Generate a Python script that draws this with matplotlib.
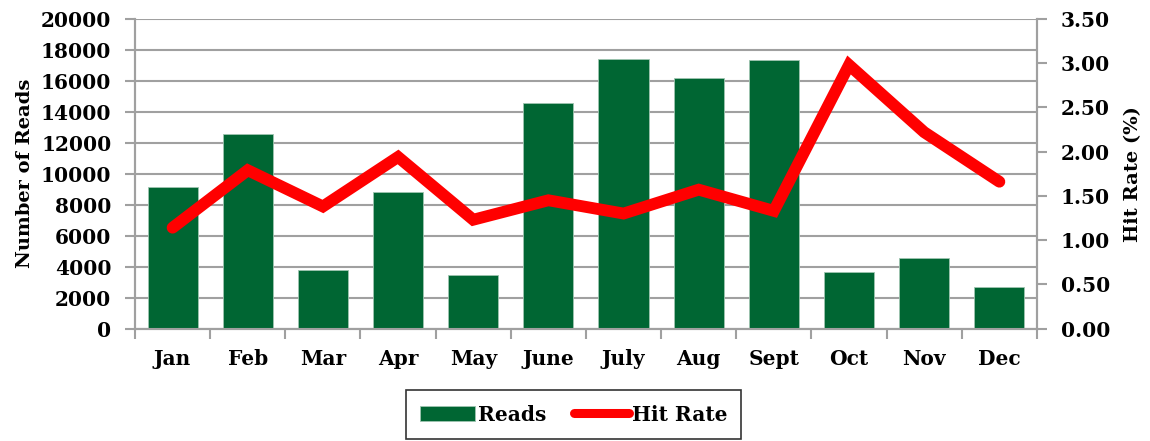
import matplotlib
matplotlib.use("Agg")
import matplotlib.pyplot as plt
import numpy as np

months = ["Jan", "Feb", "Mar", "Apr", "May", "June", "July", "Aug", "Sept", "Oct", "Nov", "Dec"]
reads = [9150, 12600, 3760, 8800, 3460, 14550, 17420, 16190, 17350, 3670, 4540, 2690]
hit_rate = [1.14, 1.79, 1.38, 1.94, 1.23, 1.45, 1.30, 1.57, 1.33, 2.98, 2.22, 1.66]

plt.rcParams['font.family'] = ['DejaVu Serif']
plt.rcParams['font.weight'] = 'bold'

fig = plt.figure(figsize=(11.5, 4.41), dpi=100)
ax = fig.add_axes([0.1174, 0.2551, 0.9017 - 0.1174, 0.9569 - 0.2551])
ax2 = ax.twinx()

grid_c = "#a0a0a0"
x = np.arange(len(months))
bars = ax.bar(x, reads, width=0.667, color="#006633", edgecolor="#9fc5b0", linewidth=0.6, zorder=3, label="Reads")
line, = ax2.plot(x, hit_rate, color="#ff0000", linewidth=8.5, solid_capstyle="round", solid_joinstyle="miter", zorder=4, label="Hit Rate")

ax.set_xlim(-0.5, len(months) - 0.5)
ax.set_ylim(0, 20000)
ax.set_yticks(np.arange(0, 20001, 2000))
ax2.set_ylim(0, 3.5)
ax2.set_yticks(np.arange(0, 3.51, 0.5))
ax2.set_yticklabels([f"{v:.2f}" for v in np.arange(0, 3.51, 0.5)])

ax.yaxis.grid(True, color=grid_c, linewidth=1.5, zorder=0)
ax.set_axisbelow(True)

ax.set_xticks(x)
ax.set_xticklabels(months)
ax.set_xticks(np.arange(-0.5, len(months), 1), minor=True)
ax.tick_params(axis="x", which="major", length=0, pad=15, labelsize=14.5)
ax.tick_params(axis="x", which="minor", length=7, width=1.5, color=grid_c, direction="out")
ax.tick_params(axis="y", length=7, width=1.5, color=grid_c, labelsize=14.5, pad=10)
ax2.tick_params(axis="y", length=7, width=1.5, color=grid_c, labelsize=14.5, pad=10)

for a in (ax, ax2):
    for s in a.spines.values():
        s.set_color(grid_c)
        s.set_linewidth(1.5)
    a.spines["top"].set_visible(False)

ax.set_ylabel("Number of Reads", fontsize=14, fontweight="bold", labelpad=5)
ax2.set_ylabel("Hit Rate (%)", fontsize=14, fontweight="bold", labelpad=10)

ax2.set_zorder(ax.get_zorder() + 1)
ax2.patch.set_visible(False)

leg = fig.legend([bars, line], ["Reads", "Hit Rate"], loc="center", bbox_to_anchor=(0.499, 0.060),
                 ncol=2, frameon=True, fancybox=False, edgecolor="#000000", fontsize=14.5,
                 handlelength=2.7, handletextpad=0.15, columnspacing=1.4, borderpad=0.7,
                 borderaxespad=0)
leg.get_frame().set_linewidth(1.2)
leg.legend_handles[1].set_linewidth(6.5)
leg.legend_handles[1].set_solid_capstyle("round")

fig.savefig("out.png", dpi=100)
